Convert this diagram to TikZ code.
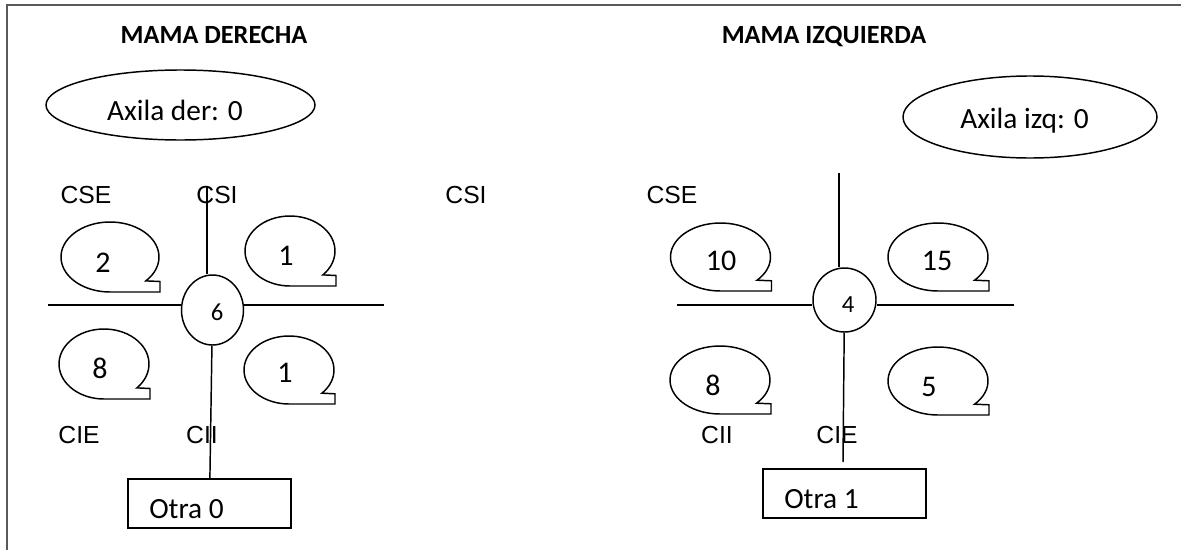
\documentclass[tikz,border=0pt]{standalone}
\usepackage{fontspec}
\setmainfont{Carlito}
\newfontfamily\arialf{Liberation Sans}
\usetikzlibrary{shapes.geometric}
\tikzset{
  shp/.style={draw=black, line width=1.1pt},
  ln/.style={draw=black, line width=1.1pt},
  frame/.style={draw=black!65, line width=1.5pt},
  body/.style={font=\fontsize{22}{26}\selectfont, inner sep=0pt, anchor=base},
  numtxt/.style={font=\fontsize{22.5}{26}\selectfont, inner sep=0pt, anchor=base},
  smalltxt/.style={font=\fontsize{18.5}{22}\selectfont, inner sep=0pt, anchor=base},
  quad/.style={font=\arialf\fontsize{18.5}{21}\selectfont, inner sep=0pt, anchor=base},
  title/.style={font=\bfseries\fontsize{19.7}{23}\selectfont, inner sep=0pt, anchor=base},
  oval/.style={shp, ellipse, inner sep=0pt},
  boxn/.style={shp, rectangle, inner sep=0pt, minimum width=122.25pt, minimum height=36.75pt}
}
% #1 name, #2 cx, #3 cy, #4 rx, #5 ry, #6 text, #7 tx, #8 ty
\newcommand\speechbubble[8]{%
  \draw[shp] (#2,#3) ++(43:#4 and #5)
    arc[start angle=43, end angle=-270, x radius=#4, y radius=#5]
    -- ++({#4+1},0) -- ++(0,{-0.3*#5}) -- cycle;
  \node[numtxt] (#1) at (#7,#8) {#6};
}
\begin{document}
\begin{tikzpicture}[x=0.75pt, y=-0.75pt]
\useasboundingbox (0,0) rectangle (1181,550);
% frame
\draw[frame] (7,550) -- (7,5) -- (1181,5);

% titles
\node[title] (t1) at (214,43) {MAMA DERECHA};
\node[title] (t2) at (824,43) {MAMA IZQUIERDA};

% axila ovals
\node[oval, minimum width=201.75pt, minimum height=52.5pt] (axd) at (180.5,105) {};
\node[body] (axdt) at (175,120) {Axila der: 0};
\node[oval, minimum width=190.5pt, minimum height=61.5pt] (axi) at (1030,117) {};
\node[body] (axit) at (1024.5,128) {Axila izq: 0};

% quadrant labels
\node[quad] (cse1) at (86,203) {CSE};
\node[quad] (csi1) at (217,203) {CSI};
\node[quad] (csi2) at (466,203) {CSI};
\node[quad] (cse2) at (672,203) {CSE};
\node[quad] (cie1) at (79,443) {CIE};
\node[quad] (cii1) at (202,443) {CII};
\node[quad] (cii2) at (717,443) {CII};
\node[quad] (cie2) at (837,443) {CIE};

% ---------- left breast ----------
\node[shp, ellipse, inner sep=0pt, minimum width=46.5pt, minimum height=52.5pt] (c6) at (212.5,310) {};
\node[smalltxt] (c6t) at (217,320) {6};
\node[boxn] (box0) at (209.5,503.5) {};
\node[body, anchor=base west] (box0t) at (149,518) {Otra 0};
\coordinate (l6) at (48,305);
\coordinate (r6) at (384,305);
\coordinate (u6) at (207,186);
\draw[ln] (l6) -- (l6 -| c6.west);
\draw[ln] (c6.east |- r6) -- (r6);
\draw[ln] (u6) -- (u6 |- c6.north);
\draw[ln] (c6) -- (box0);

\speechbubble{b2}{110}{257}{49}{35}{2}{103}{272}
\speechbubble{b1a}{290}{251}{45}{35}{1}{286}{265}
\speechbubble{b8a}{104}{364}{45}{35}{8}{100}{378}
\speechbubble{b1b}{289}{370}{45}{34}{1}{285}{382}

% ---------- right breast ----------
\node[shp, ellipse, inner sep=0pt, minimum width=47.25pt, minimum height=48pt] (c4) at (844.5,300) {};
\node[smalltxt] (c4t) at (848,312) {4};
\node[boxn] (box1) at (844.5,493.5) {};
\node[body, anchor=base west] (box1t) at (784,508) {Otra 1};
\coordinate (l4) at (677,305);
\coordinate (r4) at (1014,305);
\coordinate (u4) at (839,173);
\coordinate (d4) at (843,462);
\draw[ln] (l4) -- (l4 -| c4.west);
\draw[ln] (c4.east |- r4) -- (r4);
\draw[ln] (u4) -- (u4 |- c4.north);
\draw[ln] (c4) -- (d4);

\speechbubble{b10}{720.5}{257}{50}{34}{10}{721}{270}
\speechbubble{b15}{938}{257}{50}{34}{15}{937}{270}
\speechbubble{b8b}{720}{380}{50}{34}{8}{713}{395}
\speechbubble{b5}{938}{381}{50}{34}{5}{929}{396}
\end{tikzpicture}
\end{document}
